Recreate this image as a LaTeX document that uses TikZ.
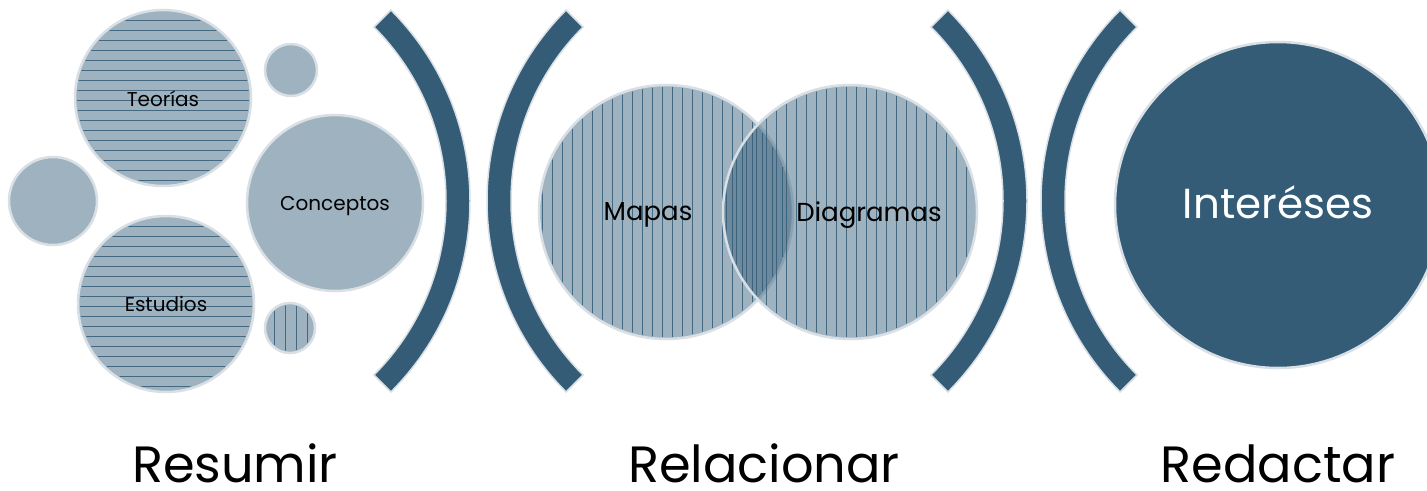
\documentclass[tikz,border=0pt]{standalone}
\usepackage{fontspec}
\setmainfont{Poppins}
\usetikzlibrary{positioning}
\definecolor{slate}{HTML}{345C77}
\definecolor{rim}{HTML}{D8DFE5}
\tikzset{
  bubble/.style={circle,inner sep=0pt,fill=slate,fill opacity=0.47,draw=rim,draw opacity=1,line width=2.5pt},
  stripe/.style={slate,line width=1pt,opacity=0.85},
  bracket/.style={fill=slate,draw=rim,line width=1.5pt},
  caption/.style={anchor=base,inner sep=0pt,font=\fontsize{51}{58}\selectfont},
}
\begin{document}
\begin{tikzpicture}[x=1pt,y=1pt]
  \clip (0,0) rectangle (1427,-490);
  \fill[white] (0,0) rectangle (1427,-490);

  % first group
  \node[bubble,minimum size=176pt] (teorias) at (163,-98) {};
  \node[bubble,minimum size=52pt] (dot top) at (291,-70) {};
  \node[bubble,minimum size=88pt] (dot left) at (53,-201) {};
  \node[bubble,minimum size=176pt] (conceptos) at (335,-203) {};
  \node[bubble,minimum size=176pt] (estudios) at (166,-304) {};
  \node[bubble,minimum size=50pt] (dot bottom) at (290,-328) {};
  \begin{scope}
    \clip (teorias.center) circle[radius=86pt];
    \foreach \d in {-82,-72,...,88} \draw[stripe] ([yshift=\d pt]teorias.west) -- ++(176,0);
  \end{scope}
  \begin{scope}
    \clip (estudios.center) circle[radius=86pt];
    \foreach \d in {-82,-72,...,88} \draw[stripe] ([yshift=\d pt]estudios.west) -- ++(176,0);
  \end{scope}
  \begin{scope}
    \clip (dot bottom.center) circle[radius=23pt];
    \foreach \d in {-16,-5,...,22} \draw[stripe] ([xshift=\d pt]dot bottom.south) -- ++(0,50);
  \end{scope}
  \node[font=\fontsize{20}{24}\selectfont] (teorias text) at (163,-99) {Teorías};
  \node[font=\fontsize{20}{24}\selectfont] (conceptos text) at (335,-206) {Conceptos};
  \node[font=\fontsize{20}{24}\selectfont] (estudios text) at (166,-304) {Estudios};

  \draw[bracket] (200,-201) ++(-45:270) arc[start angle=-45,end angle=45,radius=270] -- ++(225:24) arc[start angle=45,end angle=-45,radius=246] -- cycle;

  % second group
  \draw[bracket] (757,-201) ++(135:270) arc[start angle=135,end angle=225,radius=270] -- ++(45:24) arc[start angle=225,end angle=135,radius=246] -- cycle;
  \node[bubble,minimum size=254pt] (mapas) at (666,-212) {};
  \begin{scope}
    \clip (mapas.center) circle[radius=125pt];
    \foreach \d in {-124,-114,...,126} \draw[stripe] ([xshift=\d pt]mapas.south) -- ++(0,254);
  \end{scope}
  \node[bubble,minimum size=254pt] (diagramas) at (850,-212) {};
  \begin{scope}
    \clip (diagramas.center) circle[radius=125pt];
    \foreach \d in {-124,-114,...,126} \draw[stripe] ([xshift=\d pt]diagramas.south) -- ++(0,254);
  \end{scope}
  \node[font=\fontsize{26}{30}\selectfont] (mapas text) at ([xshift=-18pt,yshift=-3pt]mapas.center) {Mapas};
  \node[font=\fontsize{26}{30}\selectfont] (diagramas text) at ([xshift=19pt,yshift=-3pt]diagramas.center) {Diagramas};
  \draw[bracket] (757,-201) ++(-45:270) arc[start angle=-45,end angle=45,radius=270] -- ++(225:24) arc[start angle=45,end angle=-45,radius=246] -- cycle;

  % third group
  \draw[bracket] (1311,-201) ++(135:270) arc[start angle=135,end angle=225,radius=270] -- ++(45:24) arc[start angle=225,end angle=135,radius=246] -- cycle;
  \node[circle,inner sep=0pt,minimum size=326pt,fill=slate,draw=rim,line width=2.5pt] (intereses) at (1278,-205) {};
  \node[text=white,font=\fontsize{42}{48}\selectfont] (intereses text) at ([yshift=3pt]intereses.center) {Interéses};

  % labels
  \node[caption] (resumir) at (235,-482) {Resumir};
  \node[caption] (relacionar) at (764,-482) {Relacionar};
  \node[caption] (redactar) at (1278,-482) {Redactar};
\end{tikzpicture}
\end{document}
